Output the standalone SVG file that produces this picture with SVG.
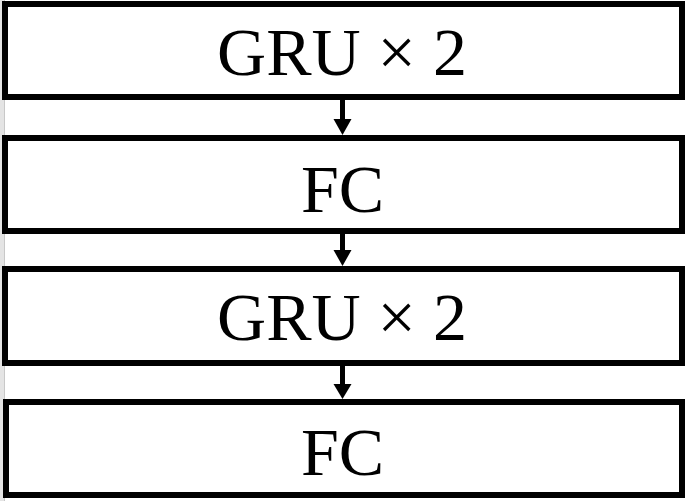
<svg xmlns="http://www.w3.org/2000/svg" width="687" height="501" viewBox="0 0 687 501">
<style>
.box{fill:#fff;stroke:#000;stroke-width:6}
.lbl{font-family:"Liberation Serif","Times New Roman",serif;font-size:68px;fill:#000;text-anchor:middle}
.shaft{stroke:#000;stroke-width:5;fill:none}
.head{fill:#000}
</style>
<rect x="0" y="0" width="687" height="501" fill="#fff"/>
<rect x="0" y="0" width="4" height="501" fill="#e4e4e4"/>
<rect x="4" y="0" width="1" height="501" fill="#c8c8c8"/>
<g id="connectors">
  <line class="shaft" x1="342.5" y1="100" x2="342.5" y2="120"/>
  <polygon class="head" points="333.5,119 351.5,119 342.5,135"/>
  <line class="shaft" x1="342.5" y1="234" x2="342.5" y2="251"/>
  <polygon class="head" points="333.5,250 351.5,250 342.5,266"/>
  <line class="shaft" x1="342.5" y1="366" x2="342.5" y2="385"/>
  <polygon class="head" points="333.5,384 351.5,384 342.5,399"/>
</g>
<g id="gru1">
  <rect class="box" x="5" y="4" width="677" height="93"/>
  <text class="lbl" x="342" y="75">GRU × 2</text>
</g>
<g id="fc1">
  <rect class="box" x="5" y="138" width="677" height="93"/>
  <text class="lbl" x="342.5" y="212">FC</text>
</g>
<g id="gru2">
  <rect class="box" x="5" y="269" width="677" height="94"/>
  <text class="lbl" x="342" y="340">GRU × 2</text>
</g>
<g id="fc2">
  <rect class="box" x="6" y="402" width="676" height="93"/>
  <text class="lbl" x="342.5" y="475">FC</text>
</g>
</svg>
